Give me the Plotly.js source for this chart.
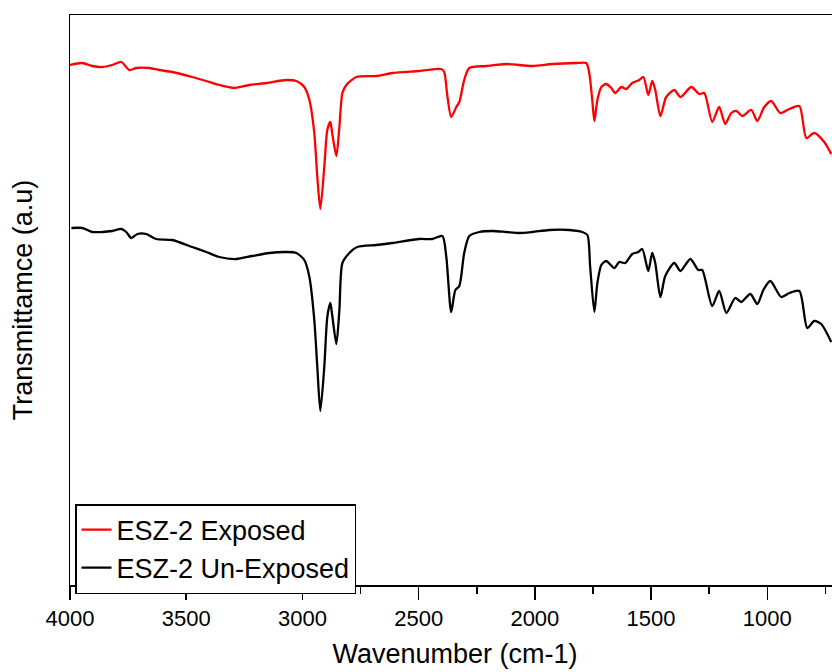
<!DOCTYPE html>
<html>
<head>
<meta charset="utf-8">
<script src="https://cdn.plot.ly/plotly-3.0.1.min.js"></script>
<style>
  html, body { margin: 0; padding: 0; overflow: hidden; background: #fff; }
  #chart { width: 840px; height: 672px; }
</style>
</head>
<body>
<div id="chart"></div>
<script>
// Wavenumbers (cm-1) and transmittance (a.u.)
const wnExposed = [4000, 3947, 3904, 3861, 3818, 3779, 3745, 3715, 3659, 3616, 3560, 3474, 3414, 3358, 3293, 3229, 3155, 3069, 3026, 2992, 2970, 2949, 2936, 2923, 2906, 2893, 2880, 2872, 2854, 2841, 2828, 2811, 2768, 2682, 2613, 2497, 2403, 2390, 2377, 2360, 2338, 2325, 2304, 2282, 2209, 2123, 2011, 1925, 1822, 1779, 1766, 1753, 1744, 1731, 1714, 1693, 1671, 1654, 1628, 1607, 1581, 1551, 1533, 1512, 1495, 1482, 1460, 1435, 1400, 1374, 1327, 1293, 1271, 1237, 1207, 1181, 1155, 1133, 1108, 1069, 1043, 1013, 983, 944, 905, 862, 832, 798, 755, 725];
const tExposed = [520, 522, 519, 518, 520, 523, 515, 517, 517, 515, 513, 508, 504, 500, 497, 500, 502, 505, 504, 498, 485, 452, 408, 376, 418, 455, 463, 452, 429, 458, 492, 500, 508, 509, 512, 514, 516, 513, 490, 468, 478, 483, 505, 517, 519, 521, 519, 521, 522, 522, 512, 485, 464, 485, 498, 501, 497, 492, 498, 496, 502, 505, 508, 490, 504, 495, 469, 488, 495, 488, 498, 491, 492, 463, 478, 461, 472, 474, 469, 475, 464, 478, 484, 472, 476, 479, 447, 452, 443, 431];

const wnUnexposed = [3994, 3947, 3904, 3861, 3818, 3779, 3758, 3736, 3710, 3672, 3629, 3560, 3474, 3414, 3358, 3285, 3216, 3143, 3069, 3026, 2992, 2970, 2949, 2936, 2923, 2906, 2893, 2880, 2872, 2854, 2841, 2828, 2798, 2764, 2682, 2613, 2497, 2441, 2398, 2381, 2360, 2342, 2325, 2304, 2282, 2239, 2183, 2123, 2067, 2011, 1938, 1852, 1796, 1774, 1762, 1744, 1731, 1714, 1693, 1658, 1637, 1611, 1581, 1555, 1538, 1512, 1495, 1482, 1460, 1439, 1400, 1374, 1331, 1297, 1280, 1237, 1207, 1176, 1138, 1112, 1073, 1043, 1017, 987, 940, 905, 862, 828, 798, 768, 725];
const tUnexposed = [357, 357, 353, 353, 354, 356, 353, 347, 351, 351, 346, 345, 338, 333, 328, 326, 329, 332, 333, 332, 325, 308, 265, 218, 174, 218, 268, 282, 270, 241, 275, 322, 332, 338, 340, 342, 346, 346, 349, 328, 273, 295, 299, 332, 349, 353, 354, 353, 352, 353, 355, 355, 353, 350, 318, 273, 302, 320, 324, 317, 323, 322, 331, 333, 336, 314, 332, 322, 288, 309, 322, 314, 326, 315, 315, 279, 294, 272, 287, 283, 291, 281, 295, 304, 288, 292, 294, 257, 264, 261, 243];

const seriesNames = ["ESZ-2 Exposed", "ESZ-2 Un-Exposed"];
const xTickVals = [4000, 3500, 3000, 2500, 2000, 1500, 1000];
const xMinorTickVals = [3750, 3250, 2750, 2250, 1750, 1250, 750];

const FONT = "Liberation Sans, Arial, sans-serif";

const traces = [
  { x: wnExposed, y: tExposed, name: seriesNames[0], type: "scatter", mode: "lines",
    line: { color: "#ff0000", width: 2.3, shape: "spline", smoothing: 0.7 } },
  { x: wnUnexposed, y: tUnexposed, name: seriesNames[1], type: "scatter", mode: "lines",
    line: { color: "#000000", width: 2.3, shape: "spline", smoothing: 0.7 } }
];

const layout = {
  width: 840, height: 672,
  margin: { l: 70, r: 0, t: 15, b: 87 },
  paper_bgcolor: "#ffffff", plot_bgcolor: "#ffffff",
  font: { family: FONT, color: "#000" },
  showlegend: true,
  legend: {
    x: 0.0065, y: 0.142, xanchor: "left", yanchor: "top",
    bordercolor: "#000", borderwidth: 1.5, bgcolor: "#fff",
    font: { family: FONT, size: 27, color: "#000" },
    tracegroupgap: 0
  },
  xaxis: {
    range: [4000, 687.2], autorange: false,
    tickvals: xTickVals, ticktext: xTickVals.map(String),
    ticks: "outside", ticklen: 13, tickwidth: 1.5, tickcolor: "#000",
    minor: { tickvals: xMinorTickVals, ticks: "outside", ticklen: 7, tickwidth: 1.5, tickcolor: "#000" },
    showline: true, linecolor: "#000", linewidth: 1.5, mirror: true,
    showgrid: false, zeroline: false,
    tickfont: { family: FONT, size: 22, color: "#000" },
    title: { text: "Wavenumber (cm-1)", font: { family: FONT, size: 27, color: "#000" }, standoff: 14 }
  },
  yaxis: {
    range: [0, 570], autorange: false,
    showticklabels: false, ticks: "",
    showline: true, linecolor: "#000", linewidth: 1.5, mirror: true,
    showgrid: false, zeroline: false,
    title: { text: "Transmittamce (a.u)", font: { family: FONT, size: 27, color: "#000" }, standoff: 28 }
  }
};

Plotly.newPlot("chart", traces, layout, { displayModeBar: false, staticPlot: true });
</script>
</body>
</html>
